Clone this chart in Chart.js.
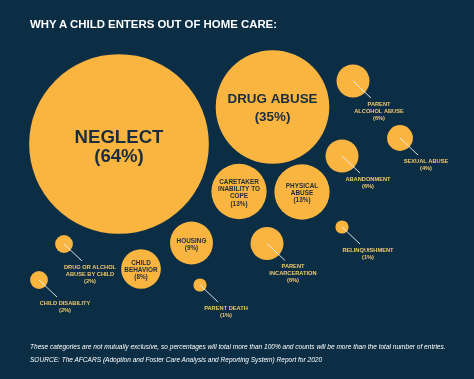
<!DOCTYPE html>
<html>
<head>
<meta charset="utf-8">
<script src="https://cdn.jsdelivr.net/npm/chart.js@4"></script>
<style>
  html, body { margin: 0; padding: 0; background: #0c2e44; }
  .wrap { position: relative; width: 474px; height: 379px; overflow: hidden; }
  canvas { position: absolute; left: 0; top: 0; }
  .title {
    position: absolute; left: 30px; top: 18px;
    font: bold 11.4px "Liberation Sans", Arial, sans-serif;
    color: #ffffff; white-space: nowrap;
  }
  .note {
    position: absolute; left: 30px; top: 341px;
    font: italic 6.55px "Liberation Sans", Arial, sans-serif;
    line-height: 12.5px; color: #ffffff; white-space: nowrap;
  }
</style>
</head>
<body>
<div class="wrap">
  <canvas id="bubbles" width="474" height="379"></canvas>
  <div class="title">WHY A CHILD ENTERS OUT OF HOME CARE:</div>
  <div class="note">
    These categories are not mutually exclusive, so percentages will total more than 100% and counts will be more than the total number of entries.<br>
    SOURCE: The AFCARS (Adoption and Foster Care Analysis and Reporting System) Report for 2020
  </div>
</div>
<script>
// reasons and share of entries (%)
const reasons = [
  'NEGLECT', 'DRUG ABUSE', 'CARETAKER\nINABILITY TO\nCOPE', 'PHYSICAL\nABUSE',
  'PARENT\nALCOHOL ABUSE', 'SEXUAL ABUSE', 'ABANDONMENT', 'RELINQUISHMENT',
  'PARENT\nINCARCERATION', 'HOUSING', 'CHILD\nBEHAVIOR', 'PARENT DEATH',
  'DRUG OR ALCHOL\nABUSE BY CHILD', 'CHILD DISABILITY'
];
const percents = [64, 35, 13, 13, 6, 4, 6, 1, 6, 9, 8, 1, 2, 2];

// where each bubble sits in the packed layout (layout units)
const layoutX = [119, 272.5, 239, 302, 353, 400, 342, 342, 267, 191.5, 141, 200, 64, 39];
const layoutY = [144, 107, 191.5, 192, 81, 138, 156, 227, 243.5, 243, 269, 285, 244, 280];

const BUBBLE = '#fab541';
const INK = '#1b2c3c';
const GOLD = '#f2c76c';
const FONT = '"Liberation Sans", Arial, sans-serif';

// bubble size grows with the share
function radiusFor(p) {
    return 3.1 * Math.pow(p, 0.8) + 3.5;
}

function labelStyle(p) {
    if (p >= 60) return { size: 18.6, lh: 19 };
    if (p >= 30) return { size: 13.4, lh: 17.5 };
    return { size: 6.4, lh: 7.2 };
}

const points = percents.map((p, i) => ({ x: layoutX[i], y: layoutY[i], r: radiusFor(p) }));

// draws the names inside the big bubbles and the pointer labels for small ones
const bubbleLabels = {
    id: 'bubbleLabels',
    afterDatasetsDraw(chart) {
        const ctx = chart.ctx;
        const meta = chart.getDatasetMeta(0);
        ctx.save();
        ctx.textAlign = 'center';
        ctx.textBaseline = 'middle';
        meta.data.forEach((el, i) => {
            const p = percents[i];
            const lines = reasons[i].split('\n').concat('(' + p + '%)');
            if (p >= 8) {
                const st = labelStyle(p);
                ctx.fillStyle = INK;
                ctx.font = 'bold ' + st.size + 'px ' + FONT;
                const top = el.y - (lines.length - 1) * st.lh / 2 + (p >= 60 ? 3 : 1.5);
                lines.forEach((t, k) => ctx.fillText(t, el.x, top + k * st.lh));
            } else {
                const ex = el.x + 18, ey = el.y + 17;
                ctx.strokeStyle = 'rgba(235,242,246,0.9)';
                ctx.lineWidth = 1;
                ctx.beginPath();
                ctx.moveTo(el.x, el.y);
                ctx.lineTo(ex, ey);
                ctx.stroke();
                ctx.fillStyle = GOLD;
                ctx.font = 'bold 5.7px ' + FONT;
                lines.forEach((t, k) => ctx.fillText(t, ex + 8, ey + 6 + k * 7.2));
            }
        });
        ctx.restore();
    }
};

new Chart(document.getElementById('bubbles'), {
    type: 'bubble',
    data: {
        datasets: [{
            data: points,
            backgroundColor: BUBBLE,
            borderWidth: 0,
            hoverRadius: 0,
            clip: false
        }]
    },
    options: {
        responsive: false,
        animation: false,
        devicePixelRatio: 1,
        layout: { padding: 0, autoPadding: false },
        scales: {
            x: { type: 'linear', display: false, min: 0, max: 474 },
            y: { type: 'linear', display: false, min: 0, max: 379, reverse: true }
        },
        plugins: {
            legend: { display: false },
            tooltip: { enabled: false }
        },
        events: []
    },
    plugins: [bubbleLabels]
});
</script>
</body>
</html>
